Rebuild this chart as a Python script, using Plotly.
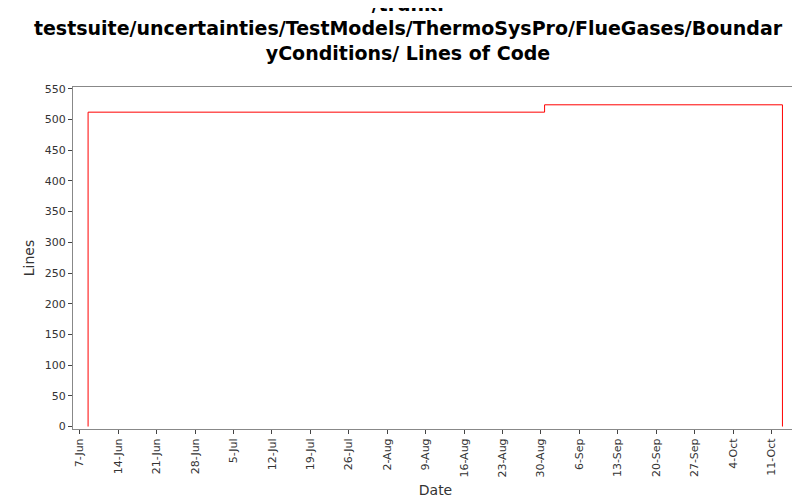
import plotly.graph_objects as go

dates = ["2010-06-08 12:00", "2010-06-08 12:00", "2010-08-30 16:00", "2010-10-13 00:00", "2010-10-13 00:00"]
lines = [0, 512, 524, 524, 0]

tick_dates = ["2010-06-07", "2010-06-14", "2010-06-21", "2010-06-28", "2010-07-05", "2010-07-12",
              "2010-07-19", "2010-07-26", "2010-08-02", "2010-08-09", "2010-08-16", "2010-08-23",
              "2010-08-30", "2010-09-06", "2010-09-13", "2010-09-20", "2010-09-27", "2010-10-04",
              "2010-10-11"]
tick_labels = ["7-Jun", "14-Jun", "21-Jun", "28-Jun", "5-Jul", "12-Jul", "19-Jul", "26-Jul", "2-Aug",
               "9-Aug", "16-Aug", "23-Aug", "30-Aug", "6-Sep", "13-Sep", "20-Sep", "27-Sep", "4-Oct",
               "11-Oct"]

fig = go.Figure(go.Scatter(x=dates, y=lines, mode="lines", line_shape="hv",
                           line=dict(color="red", width=1)))

fig.update_layout(
    width=800, height=500,
    paper_bgcolor="white", plot_bgcolor="white",
    font=dict(family="DejaVu Sans", size=11, color="#333"),
    title=dict(text="<b>/trunk:<br>testsuite/uncertainties/TestModels/ThermoSysPro/FlueGases/Boundar<br>yConditions/ Lines of Code</b>",
               x=0.5, xanchor="center", y=0.995, yanchor="top", font=dict(size=19, color="black")),
    margin=dict(l=65, r=10, t=79, b=79, autoexpand=False),
    showlegend=False,
)
fig.update_xaxes(range=["2010-06-05 18:00", "2010-10-15 20:00"], tickvals=tick_dates, ticktext=tick_labels,
                 tickangle=-90, ticks="outside", ticklen=4, showgrid=False, showline=True, automargin=False,
                 linecolor="#888", mirror=True, title=dict(text="Date", font=dict(size=14), standoff=8))
fig.update_yaxes(range=[-4, 553], dtick=50, ticks="outside", ticklen=4, showgrid=False, zeroline=False,
                 showline=True, linecolor="#888", mirror=True, automargin=False,
                 title=dict(text="Lines", font=dict(size=14), standoff=6))

fig.write_html("out.html")
